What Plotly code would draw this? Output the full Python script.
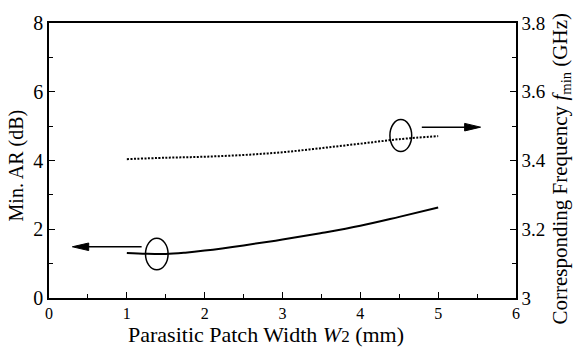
import plotly.graph_objects as go

# Data
w2 = [1.0, 1.25, 1.5, 1.75, 2.0, 2.5, 3.0, 3.5, 4.0, 4.5, 5.0]
min_ar = [1.31, 1.285, 1.28, 1.32, 1.38, 1.53, 1.70, 1.89, 2.10, 2.36, 2.63]
w2_f = [1.0, 1.5, 2.0, 2.5, 3.0, 3.5, 4.0, 4.5, 5.0]
f_min = [3.404, 3.408, 3.411, 3.416, 3.424, 3.436, 3.449, 3.462, 3.471]

FONT = "Liberation Serif"

fig = go.Figure()
fig.add_trace(go.Scatter(x=w2, y=min_ar, mode="lines",
                         line=dict(color="black", width=2, shape="spline", smoothing=1.0),
                         showlegend=False))
fig.add_trace(go.Scatter(x=w2_f, y=f_min, mode="lines", yaxis="y2",
                         line=dict(color="black", width=2, dash="2px,1.5px", shape="spline", smoothing=1.0),
                         showlegend=False))

axis_common = dict(showline=True, linecolor="black", linewidth=1.5, ticks="inside", ticklen=6,
                   tickcolor="black", tickwidth=1.2, showgrid=False, zeroline=False)

fig.update_layout(
    width=575, height=356,
    margin=dict(l=49, r=59, t=14, b=58),
    plot_bgcolor="white", paper_bgcolor="white",
    font=dict(family=FONT, color="black", size=20),
    xaxis=dict(range=[0, 6], dtick=1, mirror=True,
               minor=dict(dtick=0.5, ticks="inside", ticklen=4, tickcolor="black"),
               tickfont=dict(family=FONT, size=16, color="black"),
               **axis_common),
    yaxis=dict(range=[0, 8], dtick=2,
               minor=dict(dtick=1, ticks="inside", ticklen=4, tickcolor="black"),
               tickfont=dict(family=FONT, size=20, color="black"),
               **axis_common),
    yaxis2=dict(range=[3, 3.8], dtick=0.2, overlaying="y", side="right",
                minor=dict(dtick=0.1, ticks="inside", ticklen=4, tickcolor="black"),
                tickfont=dict(family=FONT, size=19, color="black"),
                **axis_common),
)

# Axis titles
fig.add_annotation(text="Parasitic Patch Width <i>W</i><span style='font-size:17px'>2</span> (mm)",
                   xref="paper", yref="paper", x=0.465, y=-0.134, showarrow=False,
                   xanchor="center", yanchor="middle", font=dict(family=FONT, size=22))
fig.add_annotation(text="Min. AR (dB)", xref="paper", yref="paper", x=-0.0707, y=0.482,
                   showarrow=False, textangle=-90, xanchor="center", yanchor="middle",
                   font=dict(family=FONT, size=20))
fig.add_annotation(text="Corresponding Frequency <i>f</i><sub>min</sub> (GHz)",
                   xref="paper", yref="paper", x=1.096, y=0.47,
                   showarrow=False, textangle=-90, xanchor="center", yanchor="middle",
                   font=dict(family=FONT, size=21))

# Ellipses marking the curves
fig.add_shape(type="circle", xref="x", yref="y", x0=1.24, x1=1.53, y0=0.82, y1=1.74,
              line=dict(color="black", width=1.5))
fig.add_shape(type="circle", xref="x", yref="y", x0=4.38, x1=4.66, y0=4.26, y1=5.19,
              line=dict(color="black", width=1.5))

# Arrows pointing to the axes (shaft + filled head)
fig.add_shape(type="line", xref="x", yref="y", x0=0.45, x1=1.19, y0=1.49, y1=1.49,
              line=dict(color="black", width=1.5))
fig.add_shape(type="path", xref="x", yref="y", path="M 0.30 1.49 L 0.51 1.60 L 0.51 1.38 Z",
              fillcolor="black", line=dict(color="black", width=1))
fig.add_shape(type="line", xref="x", yref="y", x0=4.79, x1=5.40, y0=4.97, y1=4.97,
              line=dict(color="black", width=1.5))
fig.add_shape(type="path", xref="x", yref="y", path="M 5.545 4.97 L 5.34 5.08 L 5.34 4.86 Z",
              fillcolor="black", line=dict(color="black", width=1))

fig.write_html("out.html")
